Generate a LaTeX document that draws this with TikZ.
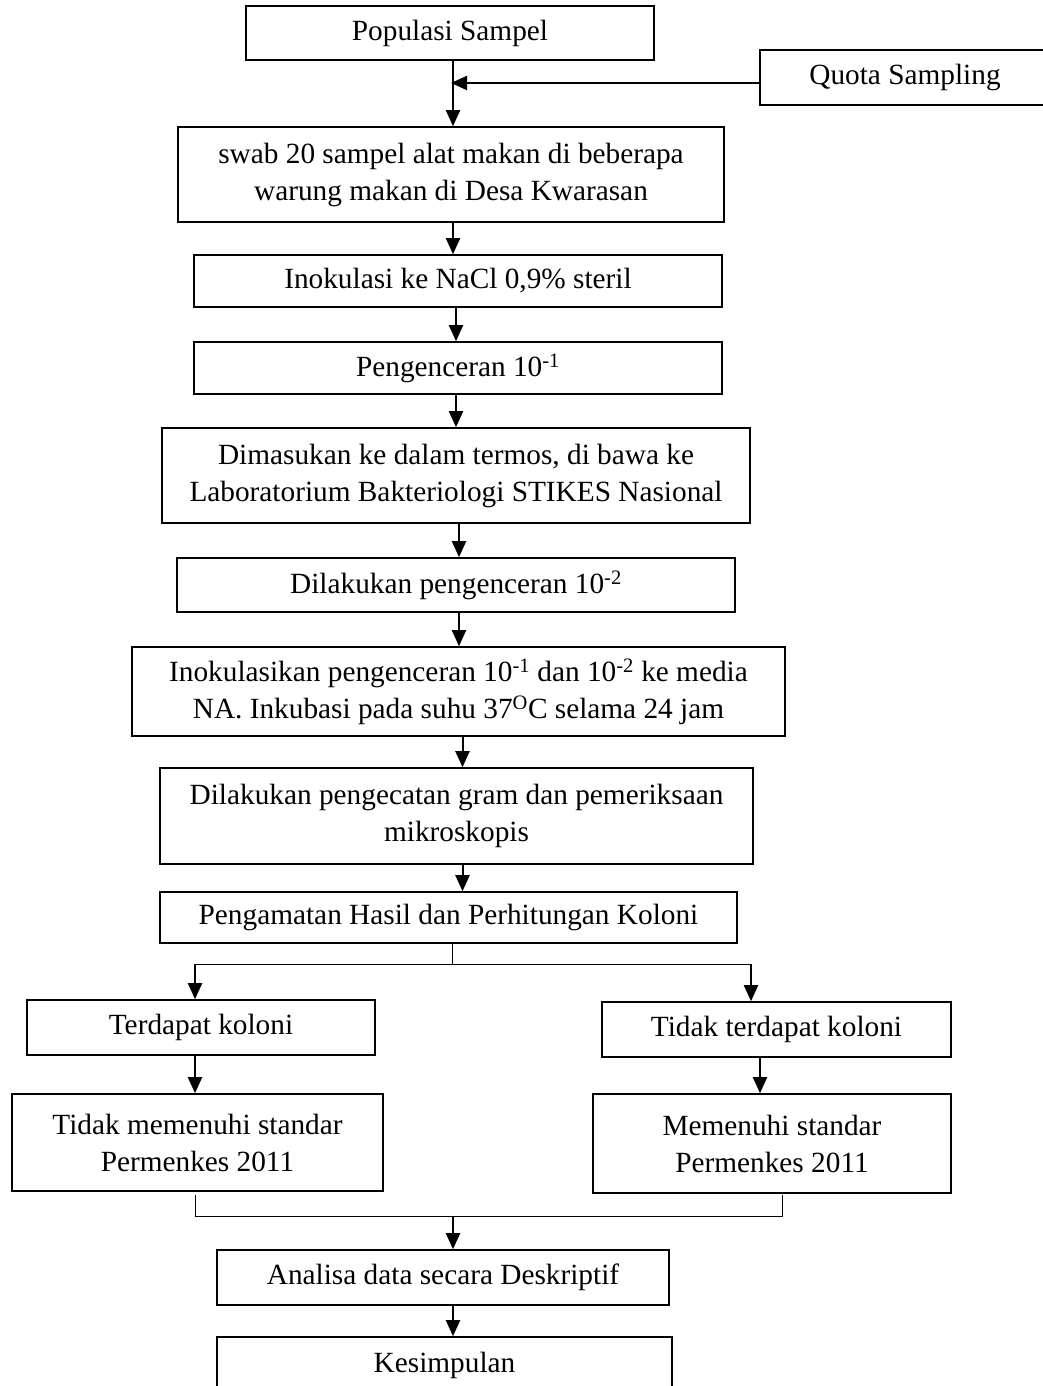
\documentclass[tikz,border=0pt]{standalone}
\usepackage{fontspec}
\setmainfont{Liberation Serif}
\usetikzlibrary{arrows.meta,calc}
\begin{document}
\begin{tikzpicture}[x=1pt,y=1pt,
  box/.style={draw, line width=1.6pt, inner sep=0pt, align=center,
    font=\fontsize{29.3}{37}\selectfont},
  arr/.style={line width=2pt, -{Triangle[length=16pt,width=14pt]}},
  thinline/.style={line width=0.9pt}]
\fill[white] (0,0) rectangle (1042,-1386);
\useasboundingbox (0,0) rectangle (1042,-1386);

\node[box, minimum width=408, minimum height=54] (pop) at (450,-33) {Populasi Sampel};
\node[box, minimum width=290, minimum height=55] (quota) at (905,-77.5) {Quota Sampling};
\node[box, minimum width=546, minimum height=95] (swab) at (451,-174.5) {swab 20 sampel alat makan di beberapa\\warung makan di Desa Kwarasan};
\node[box, minimum width=528, minimum height=52] (inok) at (458,-281) {Inokulasi ke NaCl 0,9\%{} steril};
\node[box, minimum width=528, minimum height=52] (peng) at (458,-368) {Pengenceran 10\textsuperscript{-1}};
\node[box, minimum width=588, minimum height=95] (dimas) at (456,-475.5) {Dimasukan ke dalam termos, di bawa ke\\Laboratorium Bakteriologi STIKES Nasional};
\node[box, minimum width=558, minimum height=54] (dilak) at (456,-585) {Dilakukan pengenceran 10\textsuperscript{-2}};
\node[box, minimum width=653, minimum height=89] (inkub) at (458.5,-691.5) {Inokulasikan pengenceran 10\textsuperscript{-1} dan 10\textsuperscript{-2} ke media\\NA. Inkubasi pada suhu 37\textsuperscript{O}C selama 24 jam};
\node[box, minimum width=593, minimum height=96] (cat) at (456.5,-816) {Dilakukan pengecatan gram dan pemeriksaan\\mikroskopis};
\node[box, minimum width=577, minimum height=51] (amat) at (448.5,-917.5) {Pengamatan Hasil dan Perhitungan Koloni};
\node[box, minimum width=348, minimum height=55] (ada) at (201,-1027.5) {Terdapat koloni};
\node[box, minimum width=349, minimum height=55] (tidak) at (776.5,-1029.5) {Tidak terdapat koloni};
\node[box, minimum width=371, minimum height=97] (tms) at (197.5,-1142.5) {Tidak memenuhi standar\\Permenkes 2011};
\node[box, minimum width=358, minimum height=99] (ms) at (772,-1143.5) {Memenuhi standar\\Permenkes 2011};
\node[box, minimum width=452, minimum height=55] (anal) at (443,-1277.5) {Analisa data secara Deskriptif};
\node[box, minimum width=455, minimum height=56] (kes) at (444.5,-1365) {Kesimpulan};

% main chain
\draw[arr] ([xshift=3pt]pop.south) -- ([xshift=3pt]pop.south |- swab.north);
\draw[arr] ([yshift=-5.5pt]quota.west) -- ([yshift=-5.5pt,xshift=1pt]quota.west -| pop.south);
\draw[arr] ([xshift=2pt]swab.south) -- ([xshift=2pt]swab.south |- inok.north);
\draw[arr] ([xshift=-2pt]inok.south) -- ([xshift=-2pt]inok.south |- peng.north);
\draw[arr] ([xshift=-2pt]peng.south) -- ([xshift=-2pt]peng.south |- dimas.north);
\draw[arr] ([xshift=3pt]dimas.south) -- ([xshift=3pt]dimas.south |- dilak.north);
\draw[arr] ([xshift=3pt]dilak.south) -- ([xshift=3pt]dilak.south |- inkub.north);
\draw[arr] ([xshift=4pt]inkub.south) -- ([xshift=4pt]inkub.south |- cat.north);
\draw[arr] ([xshift=6pt]cat.south) -- ([xshift=6pt]cat.south |- amat.north);

% split
\coordinate (bM) at (452,-964);
\coordinate (bL) at (195,-964);
\coordinate (bR) at (751,-964);
\draw[thinline] (bM |- amat.south) -- (bM);
\draw[thinline] (bL) -- (bR);
\draw[arr] (bL) -- (bL |- ada.north);
\draw[arr] (bR) -- (bR |- tidak.north);

\coordinate (cL) at (195,-1055);
\coordinate (cR) at (760,-1057);
\draw[arr] (cL |- ada.south) -- (cL |- tms.north);
\draw[arr] (cR |- tidak.south) -- (cR |- ms.north);

% merge
\coordinate (mL) at (195,-1216);
\coordinate (mR) at (782,-1216);
\coordinate (mM) at (453,-1216);
\coordinate (tL) at (195,-1195);
\coordinate (tR) at (782,-1195);
\draw[thinline] (tL) -- (mL) -- (mR) -- (tR);
\draw[arr] (mM) -- (mM |- anal.north);
\draw[arr] ([xshift=10pt]anal.south) -- ([xshift=10pt]anal.south |- kes.north);
\end{tikzpicture}
\end{document}
